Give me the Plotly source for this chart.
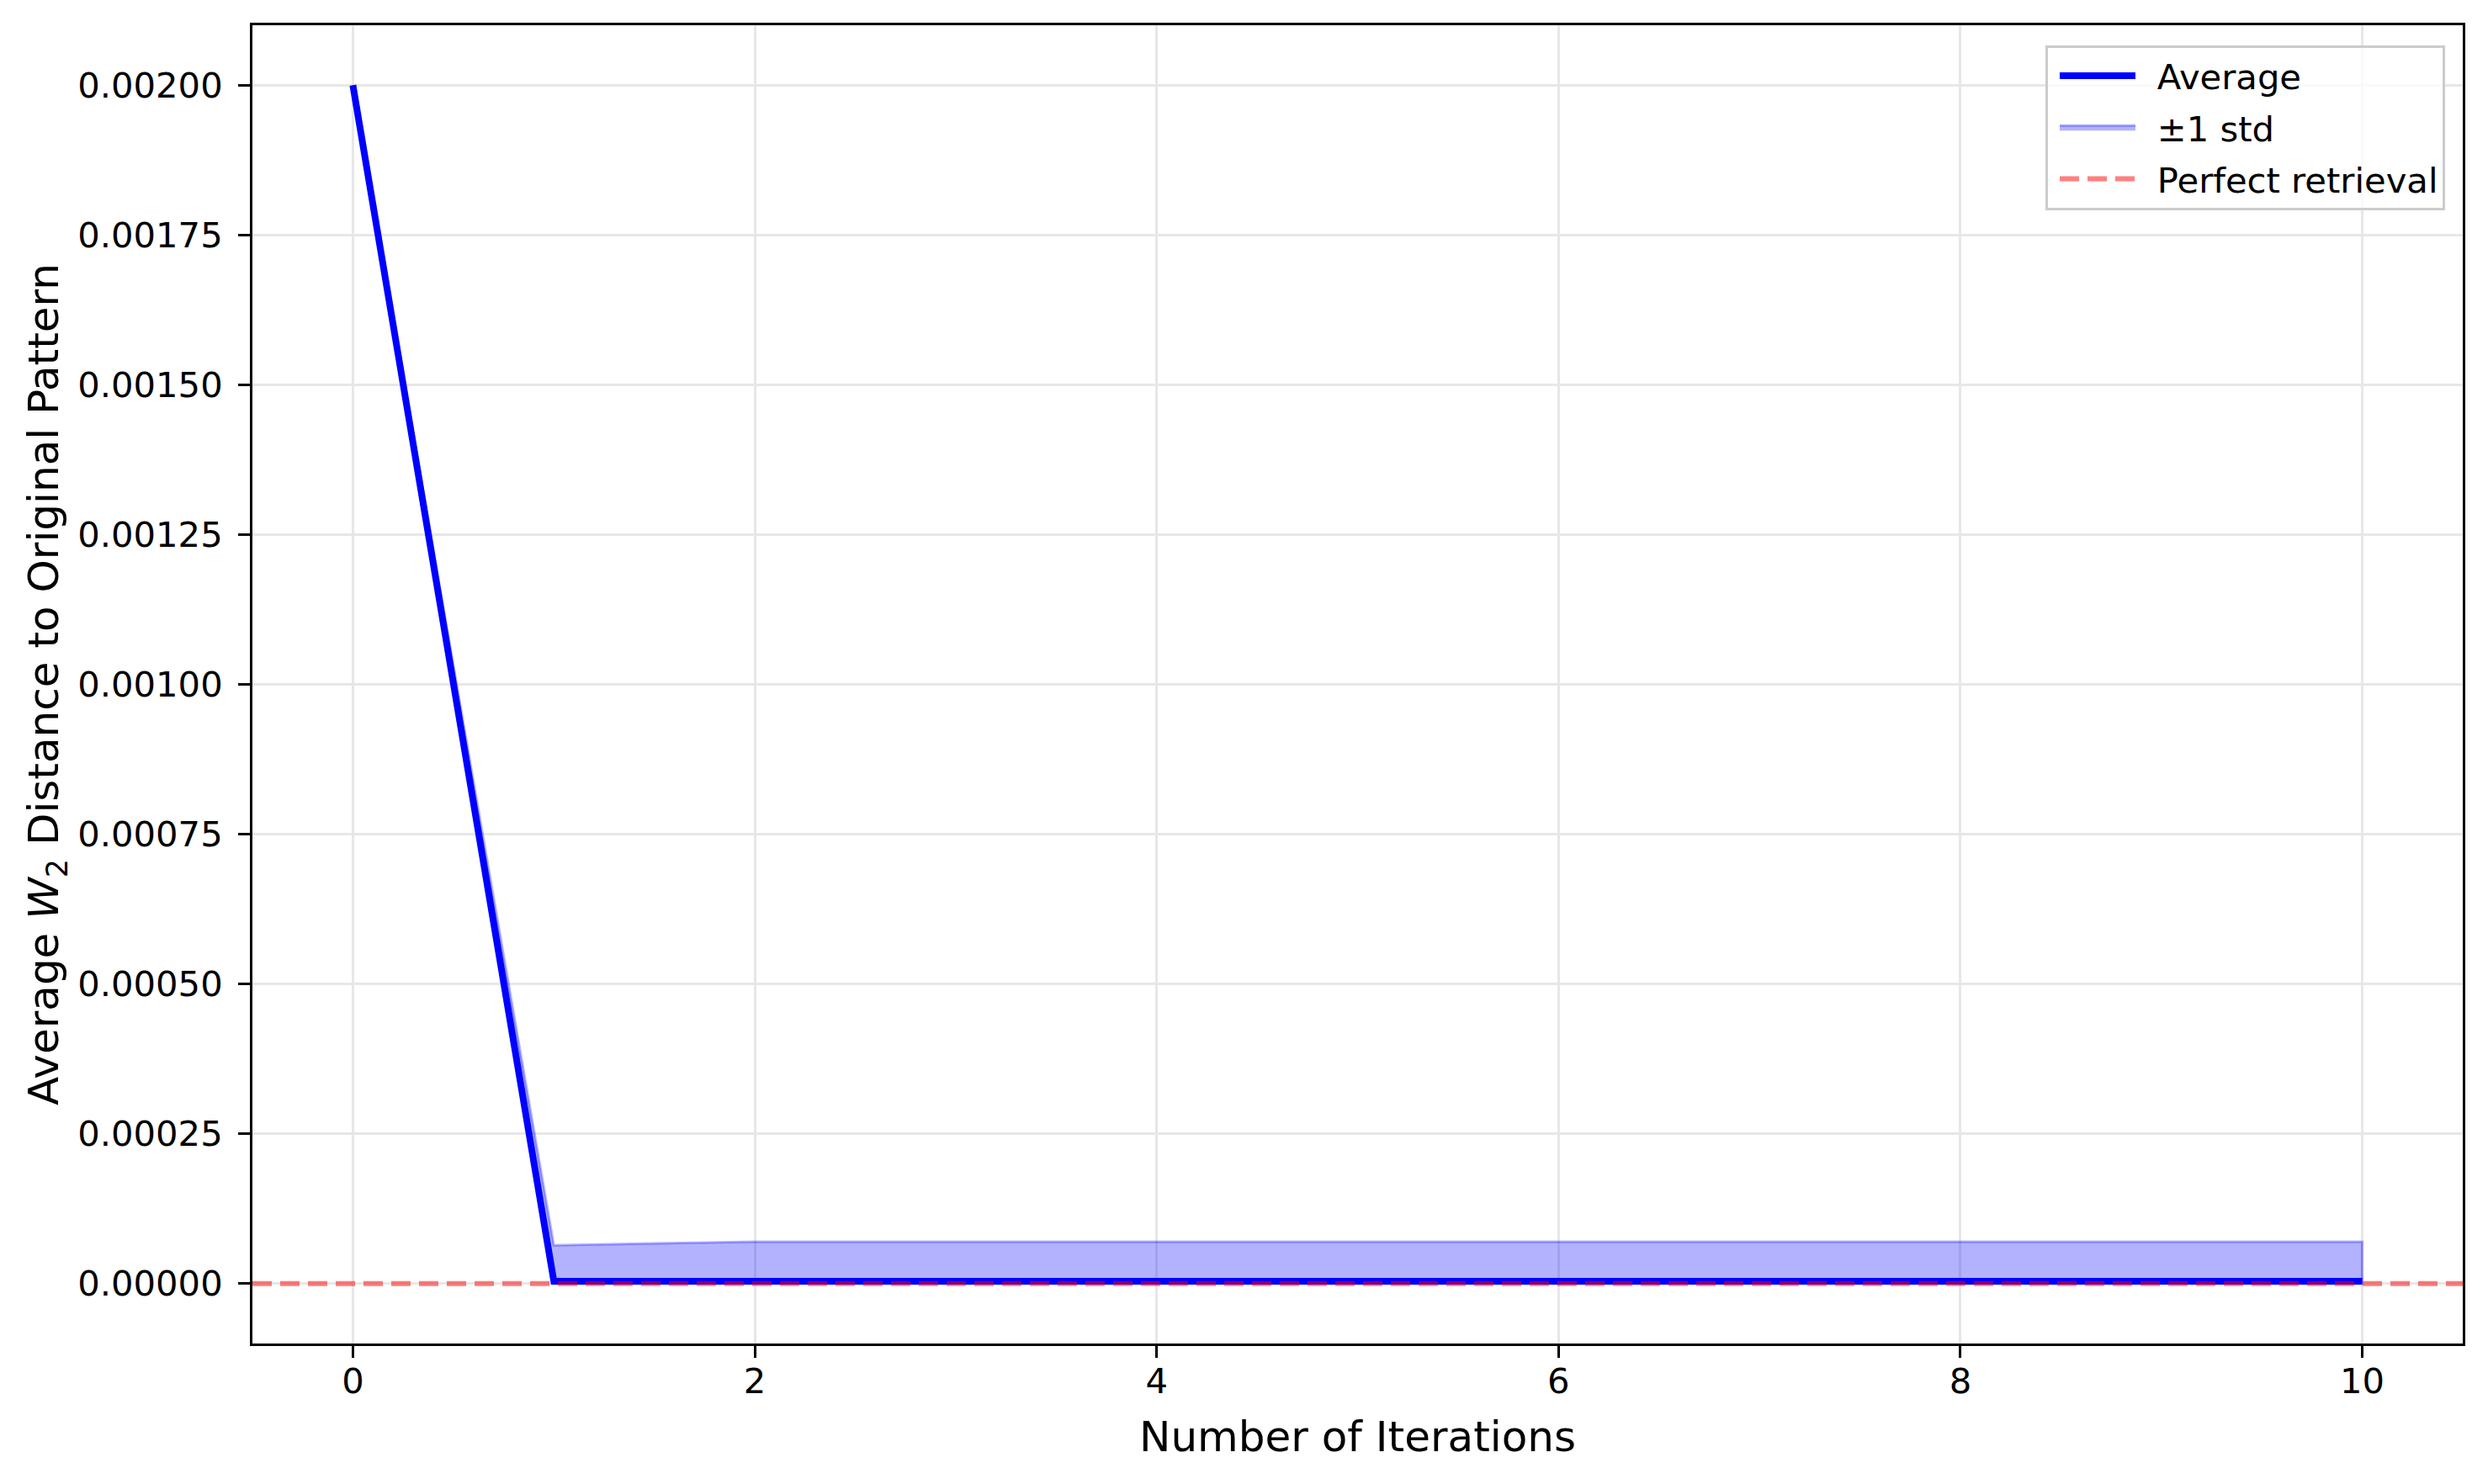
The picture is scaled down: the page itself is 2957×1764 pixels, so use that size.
import numpy as np
import plotly.graph_objects as go

# iterations and the W2 distance statistics
iterations = [0, 1, 2, 3, 4, 5, 6, 7, 8, 9, 10]
mean_dist = [0.00200, 0.000004, 0.000004, 0.000004, 0.000004, 0.000004,
             0.000004, 0.000004, 0.000004, 0.000004, 0.000004]
std_dist = [0.0, 0.000060, 0.000066, 0.000066, 0.000066, 0.000066,
            0.000066, 0.000066, 0.000066, 0.000066, 0.000066]

x_ticks = [0, 2, 4, 6, 8, 10]
y_ticks = [0.0, 0.00025, 0.0005, 0.00075, 0.001, 0.00125, 0.0015, 0.00175, 0.002]

mean_arr = np.array(mean_dist)
std_arr = np.array(std_dist)
upper = mean_arr + std_arr
lower = np.clip(mean_arr - std_arr, 0, None)

# closed polygon for the ±1 std band
band_x = iterations + iterations[::-1]
band_y = list(upper) + list(lower[::-1])

FONT = "DejaVu Sans"
TICK_SIZE = 41.7
LABEL_SIZE = 50
GAP = "\u2002"  # small gap between legend symbol and text

fig = go.Figure()

# band first so the average line sits on top of it
fig.add_trace(
    go.Scatter(
        name=GAP + "±1 std",
        x=band_x,
        y=band_y,
        mode="lines",
        fill="toself",
        fillcolor="rgba(0,0,255,0.3)",
        line=dict(color="rgba(0,0,255,0.3)", width=3),
        legendrank=2,
        legendgroup="std",
    )
)
fig.add_trace(
    go.Scatter(
        name=GAP + "Average",
        x=iterations,
        y=mean_dist,
        mode="lines",
        line=dict(color="#0000ff", width=8),
        legendrank=1,
        legendgroup="avg",
    )
)
# zero line spanning the whole axis
fig.add_trace(
    go.Scatter(
        name=GAP + "Perfect retrieval",
        x=[-0.5, 10.5],
        y=[0, 0],
        mode="lines",
        line=dict(color="rgba(255,0,0,0.5)", width=6, dash="23px,10px"),
        legendrank=3,
        legendgroup="perfect",
    )
)

axis_common = dict(
    ticks="outside",
    ticklen=14,
    tickwidth=3,
    tickcolor="black",
    showline=True,
    linecolor="black",
    linewidth=3,
    mirror=True,
    showgrid=True,
    gridcolor="#e7e7e7",
    gridwidth=3,
    zeroline=False,
    tickfont=dict(family=FONT, size=TICK_SIZE, color="black"),
)

fig.update_layout(
    width=2957,
    height=1764,
    paper_bgcolor="white",
    plot_bgcolor="white",
    font=dict(family=FONT, size=TICK_SIZE, color="black"),
    margin=dict(l=292, r=38, t=22, b=175),
    legend=dict(
        x=0.992,
        y=0.985,
        xanchor="right",
        yanchor="top",
        bgcolor="rgba(255,255,255,0.8)",
        bordercolor="#cccccc",
        borderwidth=3,
        font=dict(family=FONT, size=TICK_SIZE),
        traceorder="grouped",
        itemwidth=90,
        indentation=9,
        tracegroupgap=4,
    ),
    xaxis=dict(
        range=[-0.5, 10.5],
        tickvals=x_ticks,
        ticklabelstandoff=-8,
        title=dict(text="Number of Iterations", font=dict(size=LABEL_SIZE), standoff=25),
        **axis_common,
    ),
    yaxis=dict(
        range=[-0.0001, 0.0021],
        tickvals=y_ticks,
        tickformat=".5f",
        ticklabelstandoff=10,
        title=dict(
            text="Average <i>W</i><sub>2</sub> Distance to Original Pattern",
            font=dict(size=LABEL_SIZE),
            standoff=7,
        ),
        **axis_common,
    ),
)

fig.write_html("out.html")
